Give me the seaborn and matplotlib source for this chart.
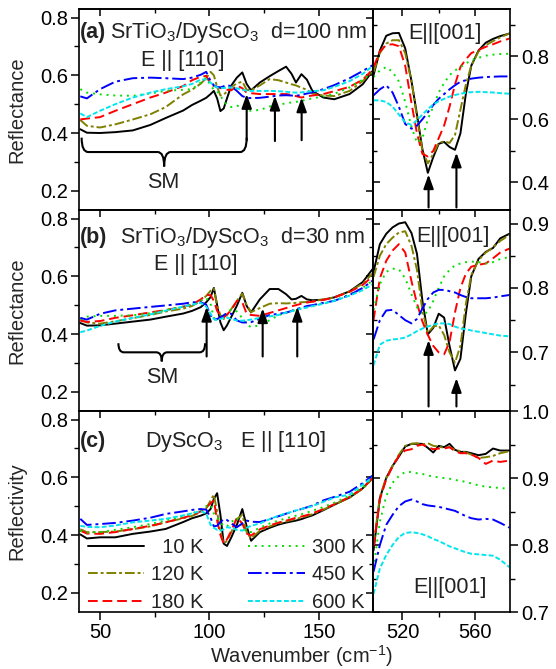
import numpy as np
import pandas as pd
import matplotlib
matplotlib.use('Agg')
import matplotlib.pyplot as plt
import seaborn as sns
from matplotlib.path import Path
from matplotlib.patches import PathPatch
from matplotlib.ticker import MultipleLocator, FormatStrFormatter

# ---------------- data ----------------
temps = ['10 K', '120 K', '180 K', '300 K', '450 K', '600 K']

# far-infrared grid (cm^-1)
wn_far = [41, 44, 50, 57, 65, 73, 80, 88, 92, 96, 98.5, 100.5, 102, 103.5, 105, 106.5, 108,
          110, 112.5, 115, 117, 119, 123, 127.5, 131.5, 135, 137.5, 139.5, 142, 144.5, 147,
          152, 157, 164, 170, 174.5]
# mid-infrared grid (cm^-1)
wn_mid = [504, 507.5, 511, 514.5, 518, 521.5, 525, 528, 531, 534, 537, 540, 543, 546, 549,
          552, 555, 558, 562, 566, 570, 574, 579]

# (a) SrTiO3/DyScO3 d=100 nm, E || [110]
refl_a_far = {
    '10 K':  [0.413, 0.401, 0.400, 0.403, 0.409, 0.428, 0.452, 0.478, 0.497, 0.512, 0.522, 0.535, 0.546, 0.520, 0.476, 0.485, 0.520,
              0.565, 0.592, 0.610, 0.570, 0.548, 0.575, 0.597, 0.615, 0.630, 0.605, 0.575, 0.604, 0.585, 0.546,
              0.523, 0.517, 0.535, 0.569, 0.615],
    '120 K': [0.445, 0.425, 0.419, 0.430, 0.447, 0.465, 0.490, 0.534, 0.550, 0.571, 0.590, 0.612, 0.600, 0.560, 0.530, 0.532, 0.545,
              0.560, 0.572, 0.578, 0.550, 0.548, 0.565, 0.587, 0.583, 0.575, 0.569, 0.565, 0.557, 0.550, 0.537,
              0.530, 0.528, 0.546, 0.580, 0.615],
    '180 K': [0.447, 0.450, 0.455, 0.477, 0.500, 0.523, 0.540, 0.563, 0.583, 0.595, 0.598, 0.570, 0.563, 0.560, 0.556, 0.552, 0.550,
              0.548, 0.565, 0.555, 0.540, 0.538, 0.535, 0.535, 0.535, 0.535, 0.532, 0.528, 0.523, 0.527, 0.530,
              0.535, 0.545, 0.560, 0.585, 0.620],
    '300 K': [0.552, 0.540, 0.534, 0.530, 0.529, 0.537, 0.546, 0.550, 0.552, 0.575, 0.592, 0.565, 0.550, 0.545, 0.530, 0.510, 0.497,
              0.490, 0.495, 0.490, 0.480, 0.477, 0.480, 0.492, 0.498, 0.503, 0.506, 0.508, 0.511, 0.516, 0.520,
              0.527, 0.536, 0.558, 0.585, 0.610],
    '450 K': [0.527, 0.520, 0.552, 0.578, 0.590, 0.592, 0.590, 0.587, 0.592, 0.602, 0.612, 0.580, 0.565, 0.560, 0.558, 0.562, 0.566,
              0.562, 0.546, 0.528, 0.522, 0.521, 0.522, 0.526, 0.530, 0.531, 0.530, 0.529, 0.532, 0.537, 0.541,
              0.552, 0.566, 0.590, 0.615, 0.635],
    '600 K': [0.468, 0.455, 0.477, 0.500, 0.523, 0.540, 0.552, 0.562, 0.570, 0.585, 0.586, 0.575, 0.565, 0.558, 0.556, 0.556, 0.557,
              0.558, 0.555, 0.550, 0.547, 0.546, 0.546, 0.546, 0.545, 0.543, 0.541, 0.540, 0.541, 0.543, 0.545,
              0.548, 0.560, 0.580, 0.605, 0.632],
}
refl_a_mid = {
    '10 K':  [0.740, 0.818, 0.865, 0.873, 0.874, 0.825, 0.720, 0.615, 0.505, 0.430, 0.480, 0.522, 0.528, 0.512, 0.503,
              0.555, 0.680, 0.770, 0.818, 0.843, 0.855, 0.864, 0.872],
    '120 K': [0.750, 0.810, 0.840, 0.851, 0.851, 0.810, 0.720, 0.607, 0.500, 0.460, 0.490, 0.525, 0.530, 0.525, 0.550,
              0.630, 0.710, 0.770, 0.815, 0.835, 0.848, 0.860, 0.872],
    '180 K': [0.766, 0.815, 0.836, 0.838, 0.832, 0.770, 0.650, 0.555, 0.490, 0.482, 0.500, 0.540, 0.580, 0.640, 0.710,
              0.766, 0.790, 0.810, 0.820, 0.830, 0.838, 0.847, 0.856],
    '300 K': [0.734, 0.755, 0.766, 0.750, 0.720, 0.655, 0.575, 0.525, 0.540, 0.600, 0.640, 0.685, 0.715, 0.740, 0.755,
              0.765, 0.777, 0.787, 0.795, 0.802, 0.805, 0.807, 0.808],
    '450 K': [0.676, 0.695, 0.708, 0.685, 0.640, 0.585, 0.570, 0.580, 0.600, 0.622, 0.645, 0.665, 0.680, 0.695, 0.708,
              0.719, 0.724, 0.729, 0.732, 0.734, 0.735, 0.736, 0.736],
    '600 K': [0.660, 0.660, 0.655, 0.640, 0.615, 0.590, 0.582, 0.597, 0.615, 0.632, 0.647, 0.657, 0.665, 0.672, 0.677,
              0.681, 0.684, 0.686, 0.687, 0.686, 0.685, 0.683, 0.681],
}

# (b) SrTiO3/DyScO3 d=30 nm, E || [110]
refl_b_far = {
    '10 K':  [0.438, 0.429, 0.430, 0.436, 0.443, 0.450, 0.460, 0.471, 0.480, 0.493, 0.510, 0.528, 0.560, 0.500, 0.440, 0.413, 0.430,
              0.460, 0.498, 0.543, 0.497, 0.475, 0.520, 0.556, 0.556, 0.538, 0.520, 0.522, 0.532, 0.520, 0.517,
              0.519, 0.527, 0.548, 0.580, 0.625],
    '120 K': [0.450, 0.440, 0.436, 0.444, 0.455, 0.466, 0.478, 0.488, 0.497, 0.515, 0.532, 0.550, 0.558, 0.500, 0.465, 0.452, 0.465,
              0.487, 0.515, 0.540, 0.500, 0.476, 0.490, 0.505, 0.507, 0.506, 0.507, 0.508, 0.510, 0.511, 0.513,
              0.520, 0.527, 0.548, 0.575, 0.610],
    '180 K': [0.446, 0.442, 0.445, 0.456, 0.465, 0.475, 0.483, 0.495, 0.502, 0.520, 0.535, 0.535, 0.515, 0.480, 0.465, 0.457, 0.468,
              0.483, 0.515, 0.510, 0.470, 0.466, 0.463, 0.473, 0.482, 0.490, 0.496, 0.500, 0.505, 0.509, 0.512,
              0.518, 0.527, 0.546, 0.570, 0.600],
    '300 K': [0.452, 0.460, 0.463, 0.463, 0.465, 0.472, 0.483, 0.495, 0.503, 0.515, 0.525, 0.505, 0.455, 0.448, 0.456, 0.463, 0.475,
              0.485, 0.478, 0.455, 0.432, 0.424, 0.430, 0.448, 0.465, 0.474, 0.480, 0.484, 0.489, 0.493, 0.497,
              0.506, 0.515, 0.537, 0.560, 0.585],
    '450 K': [0.456, 0.450, 0.470, 0.482, 0.488, 0.494, 0.499, 0.505, 0.510, 0.510, 0.502, 0.465, 0.450, 0.452, 0.458, 0.465, 0.472,
              0.470, 0.447, 0.440, 0.440, 0.441, 0.453, 0.466, 0.470, 0.474, 0.480, 0.486, 0.491, 0.497, 0.500,
              0.508, 0.515, 0.535, 0.560, 0.585],
    '600 K': [0.406, 0.412, 0.428, 0.443, 0.456, 0.468, 0.481, 0.495, 0.502, 0.508, 0.495, 0.470, 0.452, 0.448, 0.452, 0.456, 0.457,
              0.452, 0.447, 0.446, 0.448, 0.450, 0.456, 0.461, 0.466, 0.474, 0.479, 0.483, 0.488, 0.492, 0.497,
              0.505, 0.515, 0.533, 0.552, 0.572],
}
refl_b_mid = {
    '10 K':  [0.825, 0.868, 0.884, 0.894, 0.900, 0.902, 0.885, 0.853, 0.780, 0.728, 0.738, 0.760, 0.754, 0.710, 0.672,
              0.690, 0.760, 0.818, 0.845, 0.856, 0.862, 0.877, 0.884],
    '120 K': [0.817, 0.850, 0.868, 0.878, 0.886, 0.888, 0.865, 0.828, 0.765, 0.730, 0.740, 0.742, 0.727, 0.700, 0.684,
              0.710, 0.775, 0.820, 0.843, 0.855, 0.863, 0.873, 0.882],
    '180 K': [0.750, 0.815, 0.842, 0.858, 0.868, 0.855, 0.810, 0.776, 0.748, 0.727, 0.710, 0.700, 0.697, 0.716, 0.762,
              0.800, 0.822, 0.833, 0.836, 0.838, 0.846, 0.855, 0.861],
    '300 K': [0.766, 0.806, 0.825, 0.830, 0.829, 0.815, 0.790, 0.770, 0.758, 0.763, 0.780, 0.800, 0.818, 0.828, 0.835,
              0.838, 0.840, 0.841, 0.840, 0.838, 0.840, 0.845, 0.848],
    '450 K': [0.720, 0.750, 0.765, 0.766, 0.758, 0.750, 0.745, 0.752, 0.768, 0.783, 0.793, 0.797, 0.797, 0.795, 0.793,
              0.789, 0.786, 0.784, 0.784, 0.784, 0.785, 0.787, 0.789],
    '600 K': [0.680, 0.712, 0.718, 0.720, 0.721, 0.723, 0.728, 0.733, 0.737, 0.740, 0.743, 0.745, 0.745, 0.744, 0.740,
              0.737, 0.736, 0.734, 0.732, 0.730, 0.728, 0.726, 0.725],
}

# (c) DyScO3 substrate, E || [110]
refl_c_far = {
    '10 K':  [0.402, 0.388, 0.392, 0.392, 0.404, 0.412, 0.421, 0.445, 0.458, 0.467, 0.475, 0.490, 0.525, 0.545, 0.470, 0.370, 0.362,
              0.392, 0.435, 0.490, 0.430, 0.380, 0.410, 0.425, 0.436, 0.443, 0.447, 0.450, 0.455, 0.462, 0.468,
              0.486, 0.505, 0.530, 0.562, 0.598],
    '120 K': [0.420, 0.410, 0.410, 0.412, 0.420, 0.430, 0.444, 0.458, 0.466, 0.480, 0.492, 0.520, 0.540, 0.480, 0.410, 0.370, 0.380,
              0.410, 0.455, 0.470, 0.410, 0.388, 0.415, 0.430, 0.440, 0.447, 0.452, 0.456, 0.460, 0.466, 0.472,
              0.488, 0.505, 0.530, 0.560, 0.596],
    '180 K': [0.415, 0.405, 0.404, 0.410, 0.421, 0.432, 0.444, 0.460, 0.468, 0.482, 0.495, 0.510, 0.520, 0.450, 0.400, 0.370, 0.385,
              0.415, 0.460, 0.440, 0.405, 0.398, 0.420, 0.433, 0.443, 0.450, 0.455, 0.460, 0.464, 0.469, 0.475,
              0.490, 0.507, 0.532, 0.562, 0.598],
    '300 K': [0.415, 0.408, 0.410, 0.418, 0.427, 0.438, 0.450, 0.465, 0.474, 0.488, 0.500, 0.505, 0.475, 0.460, 0.445, 0.430, 0.430,
              0.445, 0.460, 0.430, 0.410, 0.410, 0.425, 0.440, 0.450, 0.458, 0.463, 0.467, 0.472, 0.478, 0.484,
              0.497, 0.512, 0.536, 0.565, 0.600],
    '450 K': [0.456, 0.435, 0.438, 0.442, 0.450, 0.460, 0.473, 0.482, 0.487, 0.490, 0.488, 0.460, 0.430, 0.432, 0.445, 0.455, 0.452,
              0.440, 0.427, 0.440, 0.450, 0.446, 0.445, 0.455, 0.465, 0.474, 0.480, 0.485, 0.490, 0.496, 0.502,
              0.520, 0.532, 0.550, 0.580, 0.606],
    '600 K': [0.432, 0.428, 0.427, 0.433, 0.444, 0.450, 0.456, 0.468, 0.475, 0.483, 0.475, 0.435, 0.425, 0.418, 0.415, 0.420, 0.427,
              0.425, 0.418, 0.415, 0.425, 0.432, 0.440, 0.455, 0.467, 0.475, 0.480, 0.485, 0.490, 0.495, 0.500,
              0.515, 0.530, 0.540, 0.575, 0.600],
}
refl_c_mid = {
    '10 K':  [0.792, 0.870, 0.900, 0.918, 0.932, 0.947, 0.951, 0.951, 0.951, 0.945, 0.938, 0.948, 0.946, 0.951, 0.942,
              0.939, 0.939, 0.937, 0.934, 0.936, 0.944, 0.941, 0.941],
    '120 K': [0.800, 0.872, 0.900, 0.918, 0.935, 0.948, 0.951, 0.952, 0.950, 0.952, 0.948, 0.947, 0.945, 0.946, 0.942,
              0.940, 0.938, 0.935, 0.930, 0.931, 0.933, 0.937, 0.940],
    '180 K': [0.797, 0.868, 0.898, 0.917, 0.933, 0.941, 0.943, 0.948, 0.950, 0.946, 0.943, 0.944, 0.944, 0.946, 0.940,
              0.937, 0.937, 0.935, 0.930, 0.921, 0.926, 0.924, 0.926],
    '300 K': [0.765, 0.835, 0.873, 0.893, 0.903, 0.909, 0.909, 0.907, 0.906, 0.904, 0.902, 0.901, 0.900, 0.899, 0.897,
              0.896, 0.894, 0.892, 0.889, 0.887, 0.886, 0.885, 0.884],
    '450 K': [0.760, 0.800, 0.830, 0.845, 0.858, 0.865, 0.868, 0.865, 0.861, 0.859, 0.858, 0.857, 0.855, 0.853, 0.851,
              0.847, 0.843, 0.840, 0.838, 0.839, 0.838, 0.833, 0.826],
    '600 K': [0.727, 0.765, 0.785, 0.800, 0.812, 0.818, 0.819, 0.818, 0.816, 0.813, 0.809, 0.806, 0.802, 0.798, 0.795,
              0.792, 0.789, 0.787, 0.786, 0.785, 0.784, 0.778, 0.767],
}

# arrows marking the modes: x position, tail and tip reflectance
arrows_a_far = [(117.0, 0.375, 0.535), (129.9, 0.372, 0.529), (142.1, 0.375, 0.523)]
arrows_a_mid = [(534.4, 0.320, 0.425), (549.8, 0.320, 0.494)]
arrows_b_far = [(98.7, 0.322, 0.494), (124.3, 0.322, 0.489), (140.1, 0.322, 0.494)]
arrows_b_mid = [(534.4, 0.616, 0.719), (549.8, 0.616, 0.660)]

# ---------------- style ----------------
sns.set_theme(style='ticks')
plt.rcParams['font.family'] = ['Liberation Sans', 'DejaVu Sans']
plt.rcParams['mathtext.fontset'] = 'custom'
plt.rcParams['mathtext.rm'] = 'Liberation Sans'
plt.rcParams['mathtext.it'] = 'Liberation Sans:italic'
plt.rcParams['mathtext.bf'] = 'Liberation Sans:bold'
plt.rcParams['axes.edgecolor'] = 'black'
plt.rcParams['axes.linewidth'] = 1.2
plt.rcParams['xtick.color'] = 'black'
plt.rcParams['ytick.color'] = 'black'
plt.rcParams['text.color'] = '#222222'

palette = {'10 K': 'black', '120 K': '#808000', '180 K': '#ff0000',
           '300 K': '#00e000', '450 K': '#0000ff', '600 K': '#00e5ee'}
dash_map = {'10 K': '', '120 K': (5, 1.5, 1.5, 1.5), '180 K': (5, 2.5),
            '300 K': (1, 2.5), '450 K': (7, 2, 1.5, 2), '600 K': (2.5, 1.2)}

FS = 14.5      # tick labels, axis labels, legend
FS_TXT = 15.5  # panel annotations


def to_long(xs, series):
    frames = [pd.DataFrame({'wn': xs, 'R': series[t], 'T': t}) for t in temps]
    return pd.concat(frames, ignore_index=True)


def draw(ax, xs, series):
    sns.lineplot(data=to_long(xs, series), x='wn', y='R', hue='T', style='T',
                 hue_order=temps, style_order=temps, palette=palette, dashes=dash_map,
                 estimator=None, sort=False, legend=False, linewidth=1.4, ax=ax)
    ax.set_xlabel('')
    ax.set_ylabel('')


def brace(ax, x0, x1, ytop, depth, r):
    xm = (x0 + x1) / 2
    ym = ytop - depth / 2
    verts = [(x0, ytop), (x0, ym), (x0 + r, ym), (xm - r, ym), (xm, ym), (xm, ytop - depth),
             (xm, ym), (xm + r, ym), (x1 - r, ym), (x1, ym), (x1, ytop)]
    codes = [Path.MOVETO, Path.CURVE3, Path.CURVE3, Path.LINETO, Path.CURVE3, Path.CURVE3,
             Path.CURVE3, Path.CURVE3, Path.LINETO, Path.CURVE3, Path.CURVE3]
    ax.add_patch(PathPatch(Path(verts, codes), fill=False, lw=1.5, ec='black'))


def mark(ax, arrows):
    for x, tail, tip in arrows:
        ax.annotate('', xy=(x, tip), xytext=(x, tail),
                    arrowprops=dict(arrowstyle='-|>,head_length=0.7,head_width=0.25',
                                    color='black', lw=1.5, shrinkA=0, shrinkB=0,
                                    mutation_scale=12))


def set_ticks(axis_obj, major, minor):
    axis_obj.tick_params(which='both', labelsize=FS, pad=2)
    axis_obj.tick_params(which='major', length=6, width=1.1)
    axis_obj.tick_params(which='minor', length=3.5, width=1.0)


def inner_ticks(ax, xmajor, xminor, ymajor, yminor, yside):
    # ticks pointing inward on the unlabeled sides
    top = ax.secondary_xaxis('top')
    top.set_xticks(xmajor)
    top.xaxis.set_minor_locator(MultipleLocator(xminor))
    top.tick_params(which='both', direction='in', labeltop=False)
    top.tick_params(which='major', length=5, width=1.1)
    top.tick_params(which='minor', length=3, width=1.0)
    side = ax.secondary_yaxis(yside)
    side.set_yticks(ymajor)
    side.yaxis.set_minor_locator(MultipleLocator(yminor))
    side.tick_params(which='both', direction='in', labelleft=False, labelright=False)
    side.tick_params(which='major', length=5, width=1.1)
    side.tick_params(which='minor', length=3, width=1.0)


def style_far(ax, last):
    ax.set_xlim(40.4, 174.7)
    ax.set_ylim(0.133, 0.83)
    ax.set_yticks([0.2, 0.4, 0.6, 0.8])
    ax.yaxis.set_minor_locator(MultipleLocator(0.1))
    ax.set_xticks([50, 100, 150])
    ax.xaxis.set_minor_locator(MultipleLocator(25))
    ax.tick_params(which='both', direction='out', labelsize=FS, pad=2)
    ax.tick_params(which='major', length=6, width=1.1)
    ax.tick_params(which='minor', length=3.5, width=1.0)
    if not last:
        ax.tick_params(axis='x', labelbottom=False)
    inner_ticks(ax, [50, 100, 150], 25, [0.2, 0.4, 0.6, 0.8], 0.1, 'right')


def style_mid(ax, ylim, major, minor, last):
    ax.set_xlim(503.7, 579.4)
    ax.set_ylim(*ylim)
    ax.yaxis.tick_right()
    ax.set_yticks(major)
    ax.yaxis.set_minor_locator(MultipleLocator(minor))
    ax.set_xticks([520, 560])
    ax.xaxis.set_minor_locator(MultipleLocator(20))
    ax.tick_params(which='both', direction='out', labelsize=FS, pad=2)
    ax.tick_params(which='major', length=6, width=1.1)
    ax.tick_params(which='minor', length=3.5, width=1.0)
    ax.yaxis.set_major_formatter(FormatStrFormatter('%.1f'))
    if not last:
        ax.tick_params(axis='x', labelbottom=False)
    inner_ticks(ax, [520, 560], 20, major, minor, 'left')


# ---------------- figure ----------------
fig = plt.figure(figsize=(5.56, 6.69), dpi=100)
x_left, w_left = 79 / 556, 294 / 556
x_right, w_right = 373 / 556, 137 / 556
h = 201 / 669
bottoms = [0.6861, 0.38565, 0.0852]

axes_far = [fig.add_axes([x_left, b, w_left, h]) for b in bottoms]
axes_mid = [fig.add_axes([x_right, b, w_right, h]) for b in bottoms]

for ax, data, last in zip(axes_far, [refl_a_far, refl_b_far, refl_c_far], [False, False, True]):
    draw(ax, wn_far, data)
    style_far(ax, last)

draw(axes_mid[0], wn_mid, refl_a_mid)
style_mid(axes_mid[0], (0.312, 0.950), [0.4, 0.6, 0.8], 0.1, False)
draw(axes_mid[1], wn_mid, refl_b_mid)
style_mid(axes_mid[1], (0.609, 0.921), [0.7, 0.8, 0.9], 0.05, False)
draw(axes_mid[2], wn_mid, refl_c_mid)
style_mid(axes_mid[2], (0.7, 1.0), [0.7, 0.8, 0.9, 1.0], 0.05, True)

axes_far[0].set_ylabel('Reflectance', fontsize=FS)
axes_far[1].set_ylabel('Reflectance', fontsize=FS)
axes_far[2].set_ylabel('Reflectivity', fontsize=FS)
for ax in axes_far:
    ax.yaxis.set_label_coords(-0.18, 0.5)

# panel (a)
a0, a1 = axes_far[0], axes_mid[0]
a0.text(0.003, 0.856, '(a)', fontsize=FS_TXT, fontweight='bold', transform=a0.transAxes)
a0.text(0.105, 0.856, 'SrTiO$_3$/DyScO$_3$  d=100 nm', fontsize=FS_TXT, transform=a0.transAxes)
a0.text(0.354, 0.716, 'E || [110]', fontsize=FS_TXT, ha='center', transform=a0.transAxes)
a1.text(0.526, 0.849, 'E||[001]', fontsize=FS_TXT, ha='center', transform=a1.transAxes)
brace(a0, 41.6, 117.0, 0.384, 0.100, 3.0)
a0.text(78.9, 0.227, 'SM', fontsize=FS_TXT, ha='center', va='center')
mark(a0, arrows_a_far)
mark(a1, arrows_a_mid)

# panel (b)
b0, b1 = axes_far[1], axes_mid[1]
b0.text(0.003, 0.834, '(b)', fontsize=FS_TXT, fontweight='bold', transform=b0.transAxes)
b0.text(0.139, 0.834, 'SrTiO$_3$/DyScO$_3$  d=30 nm', fontsize=FS_TXT, transform=b0.transAxes)
b0.text(0.398, 0.701, 'E || [110]', fontsize=FS_TXT, ha='center', transform=b0.transAxes)
b1.text(0.584, 0.842, 'E||[001]', fontsize=FS_TXT, ha='center', transform=b1.transAxes)
brace(b0, 58.4, 98.0, 0.368, 0.063, 2.5)
b0.text(78.4, 0.248, 'SM', fontsize=FS_TXT, ha='center', va='center')
mark(b0, arrows_b_far)
mark(b1, arrows_b_mid)

# panel (c)
c0, c1 = axes_far[2], axes_mid[2]
c0.text(0.003, 0.822, '(c)', fontsize=FS_TXT, fontweight='bold', transform=c0.transAxes)
c0.text(0.224, 0.822, 'DyScO$_3$   E || [110]', fontsize=FS_TXT, transform=c0.transAxes)
c1.text(0.562, 0.093, 'E||[001]', fontsize=FS_TXT, ha='center', transform=c1.transAxes)

labels = ['\u200710 K', '120 K', '180 K', '300 K', '450 K', '600 K']
c0.legend(c0.get_lines()[:6], labels, loc='lower left', bbox_to_anchor=(0.003, -0.04),
          ncol=2, frameon=False, fontsize=FS, handlelength=2.8, handletextpad=0.35,
          labelspacing=0.43, columnspacing=2.2, borderaxespad=0)

fig.text(0.542, 0.019, 'Wavenumber (cm$^{-1}$)', fontsize=FS, ha='center', va='center')

fig.savefig('out.png', dpi=100)
